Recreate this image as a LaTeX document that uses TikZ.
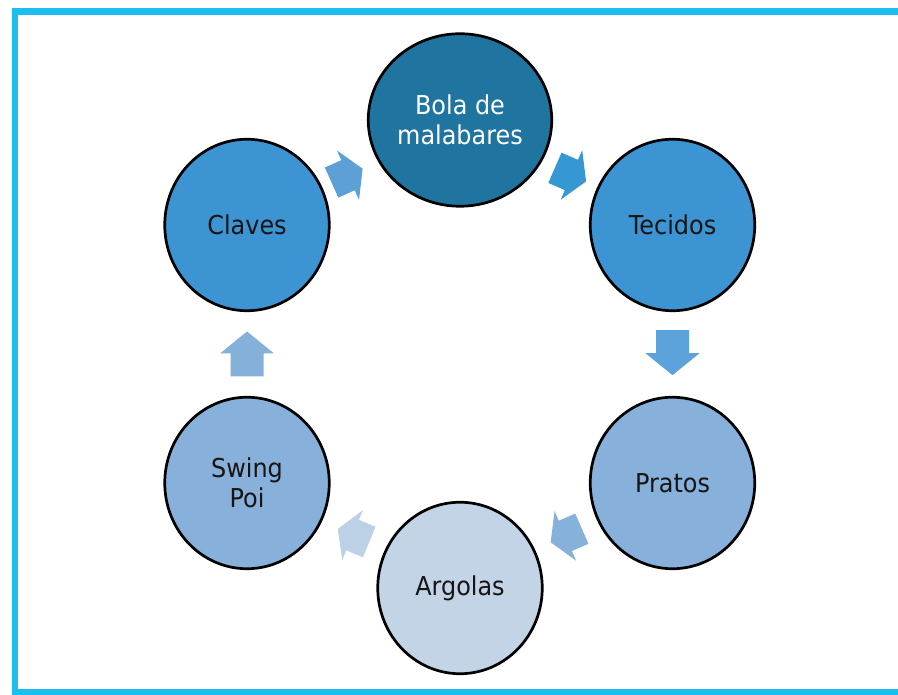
\documentclass[tikz,border=0pt]{standalone}
\usepackage{fontspec}
\setmainfont{DejaVu Sans}[FakeStretch=0.92]
\usetikzlibrary{shapes.geometric,calc}
\definecolor{framecol}{HTML}{1CBEEF}
\definecolor{cdark}{HTML}{1F74A0}
\definecolor{cmid}{HTML}{3D94D3}
\definecolor{clight}{HTML}{87B0DA}
\definecolor{cpale}{HTML}{C3D4E6}
\definecolor{aone}{HTML}{5DA0D6}
\definecolor{atwo}{HTML}{3598D3}
\definecolor{athree}{HTML}{5BA3DA}
\definecolor{afour}{HTML}{85B1DB}
\definecolor{afive}{HTML}{BCD0E6}
\definecolor{asix}{HTML}{85B0DA}
\definecolor{ink}{HTML}{151515}
% #1 centre coordinate, #2 angle, #3 shaft length, #4 head length, #5 colour
\newcommand\blockarr[5]{%
  \fill[#5, shift={(#1)}, rotate=#2]
    ({-(#3+#4)/2},-16.5) -- ({(#3-#4)/2},-16.5) -- ({(#3-#4)/2},-27) --
    ({(#3+#4)/2},0) -- ({(#3-#4)/2},27) -- ({(#3-#4)/2},16.5) --
    ({-(#3+#4)/2},16.5) -- cycle;}
\begin{document}
\begin{tikzpicture}[x=1pt,y=1pt,
  bubble/.style={ellipse, draw=black, line width=2.7pt, inner sep=0pt,
    minimum width=164.5pt, minimum height=171.5pt, align=center,
    font=\fontsize{26}{30}\selectfont, text=ink}]
\useasboundingbox (0,0) rectangle (898,695);
\fill[white] (0,0) rectangle (898,695);
\fill[framecol] (11.75,0) rectangle (18.25,686.75);
\fill[framecol] (11.75,680.25) rectangle (898,686.75);
\fill[framecol] (11.75,0) rectangle (898,5.75);
% circles
\node[bubble, fill=cdark, text=white, minimum width=183.5pt, minimum height=172.5pt] (bola) at (460,575) {Bola de\\malabares};
\node[bubble, fill=cmid] (tecidos) at (672.5,470) {Tecidos};
\node[bubble, fill=clight] (pratos) at (672.5,212) {Pratos};
\node[bubble, fill=cpale] (argolas) at (460,107) {Argolas};
\node[bubble, fill=clight] (swing) at (247,212) {Swing\\Poi};
\node[bubble, fill=cmid] (claves) at (247,470) {Claves};
% arrow positions
\coordinate (a1) at ($(claves)!0.47!(bola)$);
\coordinate (a2) at ($(bola)!0.52!(tecidos)$);
\coordinate (a3) at ($(tecidos)!0.495!(pratos)$);
\coordinate (a4) at ($(pratos)!0.5!(argolas)$);
\coordinate (a5) at ($(argolas)!0.5!(swing)$);
\coordinate (a6) at ($(swing)!0.5!(claves)$);
\blockarr{a1}{24}{18}{16}{aone}
\blockarr{a2}{-23.5}{18}{16}{atwo}
\blockarr{a3}{-90}{23}{22}{athree}
\blockarr{a4}{203.5}{18}{16}{afour}
\blockarr{a5}{157.5}{18}{16}{afive}
\blockarr{a6}{90}{23}{22}{asix}
\end{tikzpicture}
\end{document}
